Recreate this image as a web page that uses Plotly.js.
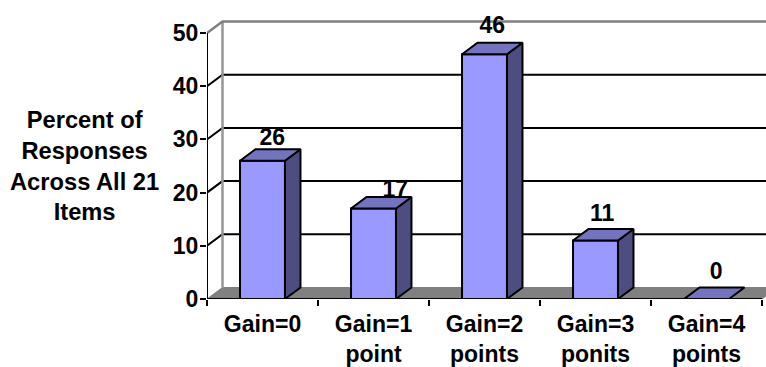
<!DOCTYPE html>
<html>
<head>
<meta charset="utf-8">
<script src="https://cdn.plot.ly/plotly-3.0.1.min.js"></script>
<style>html,body{margin:0;padding:0;background:#fff;overflow:hidden}</style>
</head>
<body>
<div id="chart" style="width:766px;height:367px"></div>
<script>
// Share of responses per gain score
const categories = ["Gain=0", "Gain=1<br>point", "Gain=2<br>points", "Gain=3<br>ponits", "Gain=4<br>points"];
const percents = [26, 17, 46, 11, 0];
const gridValues = [0, 10, 20, 30, 40, 50];

// Pixel scale of the axes and the pseudo-3D depth of the box
const unitPx = 111;
const tenPx = 53.2;
const depthX = 15.5 / unitPx;
const depthY = 11.5 / tenPx * 10;
const barWidth = 0.405;
const rightEnd = 5;

// Value labels sit a little above each bar, nudged in pixels
const labelShiftX = [2, 14, 0, -1, 2];
const labelLift = [10, 6, 16, 14, 14];

const centers = categories.map((_, i) => i + 0.5);
const fnt = { family: "Liberation Sans, Arial, sans-serif", size: 23, color: "#000", weight: 700 };
const poly = (x, y, fill, lineColor, lineWidth) => ({
  type: "scatter", mode: "lines", x, y, fill: "toself", fillcolor: fill,
  line: { color: lineColor, width: lineWidth, shape: "linear" },
  hoverinfo: "skip", cliponaxis: false, showlegend: false
});
const seg = (x, y, color, width) => ({
  type: "scatter", mode: "lines", x, y, line: { color, width },
  hoverinfo: "skip", cliponaxis: false, showlegend: false
});

// Floor and gridlines stay behind the bars, so they are below-layer shapes
const shapes = [];
shapes.push({
  type: "path", layer: "below", xref: "x", yref: "y",
  path: `M0,0 L${depthX},${depthY} L${rightEnd + depthX},${depthY} L${rightEnd},0 Z`,
  fillcolor: "#808080", line: { color: "#808080", width: 1 }
});
gridValues.slice(1, 5).forEach(v => {
  shapes.push({
    type: "path", layer: "below", xref: "x", yref: "y",
    path: `M0,${v} L${depthX},${v + depthY} L${rightEnd + depthX},${v + depthY}`,
    line: { color: "#000", width: 2 }
  });
});
shapes.push({
  type: "path", layer: "below", xref: "x", yref: "y",
  path: `M${depthX},${depthY} L${depthX},${50 + depthY}`,
  line: { color: "#969696", width: 2.5 }
});
shapes.push({
  type: "path", layer: "below", xref: "x", yref: "y",
  path: `M0,50 L${depthX},${50 + depthY} L${rightEnd + depthX},${50 + depthY}`,
  line: { color: "#808080", width: 2.5 }
});

const traces = [];

// Front faces
traces.push({
  type: "bar", x: centers, y: percents, width: barWidth,
  marker: { color: "#9999ff", line: { color: "#000", width: 2 } },
  hoverinfo: "skip", showlegend: false, cliponaxis: false
});

// Value labels come before the box faces so the faces can cover them
traces.push({
  type: "scatter", mode: "text",
  x: centers.map((c, i) => c + depthX / 2 + labelShiftX[i] / unitPx),
  y: percents.map((p, i) => p + depthY + labelLift[i] / tenPx * 10),
  text: percents.map(String),
  textposition: "middle center",
  textfont: fnt,
  hoverinfo: "skip", cliponaxis: false, showlegend: false
});

// Side and top faces of each bar
percents.forEach((p, i) => {
  const l = centers[i] - barWidth / 2, r = centers[i] + barWidth / 2;
  if (p > 0) {
    traces.push(poly([r, r + depthX, r + depthX, r, r], [0, depthY, p + depthY, p, 0], "#4d4d80", "#000", 2));
  }
  traces.push(poly([l, l + depthX, r + depthX, r, l], [p, p + depthY, p + depthY, p, p], "#7373bf", "#000", 2));
});

// Front edge of the floor and the value axis spine
traces.push(seg([0, rightEnd], [0, 0], "#000", 2));
traces.push(seg([0, 0], [0, 50], "#000", 2));

const layout = {
  width: 766, height: 367, autosize: false,
  margin: { l: 207, r: 0, t: 20, b: 68, pad: 0 },
  paper_bgcolor: "#fff", plot_bgcolor: "#fff",
  font: fnt,
  bargap: 0, showlegend: false, shapes,
  xaxis: {
    range: [0, 559 / unitPx], tickmode: "array", tickvals: centers, ticktext: categories,
    ticks: "", showgrid: false, zeroline: false, showline: false, fixedrange: true,
    tickangle: 0, ticklabelstandoff: 9,
    minor: { tickmode: "array", tickvals: [0, 1, 2, 3, 4, 5], ticks: "outside", ticklen: 6, tickwidth: 2, tickcolor: "#000", showgrid: false },
    tickfont: fnt
  },
  yaxis: {
    range: [0, 279 / tenPx * 10], tickmode: "array", tickvals: gridValues,
    ticks: "outside", ticklen: 6, tickwidth: 2, tickcolor: "#000", ticklabelstandoff: -3,
    showline: false, showgrid: false, zeroline: false, fixedrange: true,
    tickfont: fnt
  },
  annotations: [{
    text: "Percent of<br>Responses<br>Across All 21<br>Items",
    xref: "paper", yref: "paper", xanchor: "center", yanchor: "middle",
    x: (84 - 207) / 559, y: (299 - 165.5) / 279, showarrow: false, align: "center",
    font: Object.assign({}, fnt, { size: 23.7 })
  }]
};

Plotly.newPlot("chart", traces, layout, { displayModeBar: false, staticPlot: true });
</script>
</body>
</html>
